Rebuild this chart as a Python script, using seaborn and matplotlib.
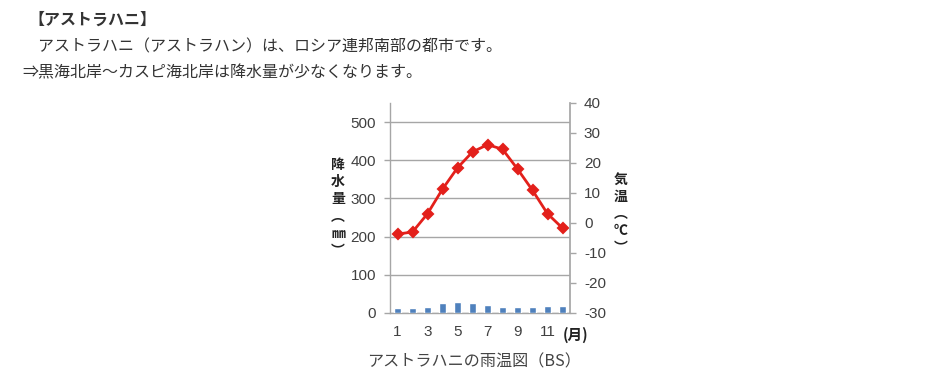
import numpy as np
import pandas as pd
import matplotlib
matplotlib.use("Agg")
import matplotlib.pyplot as plt
from matplotlib.ticker import MultipleLocator, FixedLocator
import seaborn as sns

# climate data for Astrakhan
months = list(range(1, 13))
precip = [14, 13, 17, 25, 28, 25, 21, 17, 16, 17, 18, 19]
temp = [-3.7, -3.0, 3.1, 11.3, 18.4, 23.7, 26.1, 24.6, 18.0, 10.9, 3.1, -1.7]
xlabels = ["1", "", "3", "", "5", "", "7", "", "9", "", "11", ""]

sns.set_theme(style="white")
# numbers in an Arial-like face, Japanese falls back to Noto CJK
plt.rcParams['font.family'] = ['Liberation Sans', 'Noto Sans CJK JP', 'DejaVu Sans']
plt.rcParams['axes.unicode_minus'] = False
JP = ['Noto Sans CJK JP', 'DejaVu Sans']

df = pd.DataFrame({"month": months, "precip": precip, "temp": temp})

GRAY = "#A6A6A6"
TICK_TXT = "#404040"

fig = plt.figure(figsize=(9.49, 3.80), dpi=100)
ax = fig.add_axes([390 / 949, 1 - 313 / 380, 180 / 949, 210 / 380])

sns.barplot(data=df, x="month", y="precip", color="#4F81BD", width=0.5,
            saturation=1, ax=ax, zorder=3)
ax.set_ylim(0, 550)
ax.set_xlim(-0.5, 11.5)
ax.yaxis.set_major_locator(FixedLocator([0, 100, 200, 300, 400, 500]))
ax.grid(axis="y", color=GRAY, lw=1, zorder=0)
ax.set_axisbelow(True)
ax.set_xticks(range(12))
ax.set_xticklabels(xlabels)
ax.xaxis.set_minor_locator(FixedLocator(np.arange(-0.5, 12, 1)))
ax.tick_params(axis="x", which="major", length=0, labelsize=11, colors=TICK_TXT, pad=9)
ax.tick_params(axis="x", which="minor", length=4, width=1, color=GRAY, direction="out")
ax.tick_params(axis="y", length=4, width=1, color=GRAY, direction="out",
               labelsize=11, labelcolor=TICK_TXT, pad=6)
ax.set_xlabel("")
ax.set_ylabel("")
for side in ["top", "right"]:
    ax.spines[side].set_visible(False)
for side in ["left", "bottom"]:
    ax.spines[side].set_color(GRAY)
    ax.spines[side].set_linewidth(1)

ax2 = ax.twinx()
sns.pointplot(data=df, x="month", y="temp", color="#E3201B", markers="D",
              markersize=5, linewidth=2, ax=ax2)
ax2.set_ylim(-30, 40)
ax2.set_xlim(-0.5, 11.5)
ax2.yaxis.set_major_locator(MultipleLocator(10))
ax2.tick_params(axis="y", length=4, width=1, color=GRAY, direction="out",
                labelsize=11, labelcolor=TICK_TXT, pad=6)
ax2.set_ylabel("")
ax2.set_xlabel("")
for side in ["top", "left", "bottom"]:
    ax2.spines[side].set_visible(False)
ax2.spines["right"].set_color(GRAY)

# axis titles written vertically, one character per line
fig.text(338 / 949, 1 - 208 / 380, "降\n水\n量\n︵\n㎜\n︶", ha="center", va="center",
         fontsize=10, fontweight="bold", color="#222222", linespacing=1.3, family=JP)
fig.text(621 / 949, 1 - 214 / 380, "気\n温\n︵\n℃\n︶", ha="center", va="center",
         fontsize=10, fontweight="bold", color="#222222", linespacing=1.3, family=JP)
fig.text(576 / 949, 1 - 335 / 380, "(月)", ha="center", va="center",
         fontsize=10.5, fontweight="bold", color="#222222", family=JP)

# surrounding text
fig.text(28 / 949, 1 - 20 / 380, "【アストラハニ】", ha="left", va="center",
         fontsize=11.5, fontweight="bold", color="#333333", family=JP)
fig.text(22 / 949, 1 - 47 / 380, "\u3000アストラハニ（アストラハン）は、ロシア連邦南部の都市です。",
         ha="left", va="center", fontsize=11.5, color="#333333", family=JP)
fig.text(22 / 949, 1 - 73 / 380, "⇒黒海北岸～カスピ海北岸は降水量が少なくなります。",
         ha="left", va="center", fontsize=11.5, color="#333333", family=JP)
fig.text(474 / 949, 1 - 362 / 380, "アストラハニの雨温図（BS）", ha="center", va="center",
         fontsize=11.6, color="#444444", family=JP)

fig.savefig("out.png", dpi=100)
